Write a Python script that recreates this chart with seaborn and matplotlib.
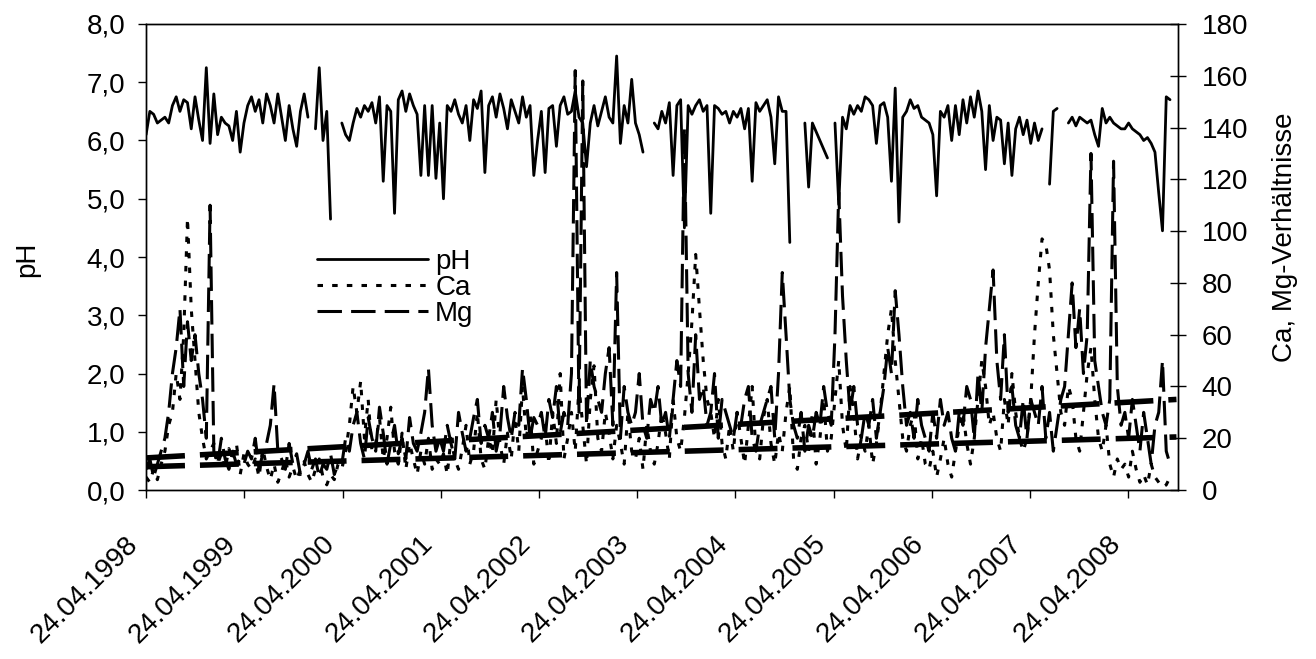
import numpy as np
import pandas as pd
import seaborn as sns
import matplotlib
matplotlib.use("Agg")
import matplotlib.pyplot as plt
import matplotlib.transforms as mtrans
from matplotlib.ticker import FuncFormatter, MultipleLocator
from matplotlib.lines import Line2D

nan = np.nan

# pH, one row per year (14-day samples from 24.04.1998)
ph_values = [
    6.1, 6.5, 6.45, 6.3, 6.35, 6.4, 6.3, 6.6, 6.75, 6.5, 6.7, 6.65, 6.2, 6.75, 6.35, 6.0, 7.25, 5.95, 6.8, 6.1, 6.4, 6.3, 6.25, 6.0, 6.5, 5.8,
    6.3, 6.6, 6.75, 6.5, 6.7, 6.3, 6.8, 6.6, 6.3, 6.8, 6.4, 6.0, 6.6, 6.2, 5.9, 6.5, 6.8, 6.4, nan, 6.2, 7.25, 6.0, 6.5, 4.65, nan, nan,
    6.3, 6.1, 6.0, 6.3, 6.55, 6.4, 6.6, 6.5, 6.65, 6.3, 6.75, 5.3, 6.6, 6.5, 4.75, 6.7, 6.85, 6.5, 6.8, 6.6, 6.45, 5.4, 6.6, 5.4, 6.6, 5.35,
    6.3, 5.0, 6.6, 6.5, 6.7, 6.45, 6.3, 6.6, 6.0, 6.7, 6.55, 6.85, 5.45, 6.6, 6.75, 6.4, 6.8, 6.55, 6.2, 6.7, 6.5, 6.3, 6.75, 6.4, 6.6, 5.4,
    6.0, 6.5, 5.45, 6.55, 6.6, 5.9, 6.6, 6.75, 6.45, 6.5, 6.85, 6.4, 6.3, 5.55, 6.3, 6.6, 6.25, 6.5, 6.75, 6.4, 6.3, 7.45, 5.95, 6.6, 6.3, 7.05,
    6.3, 6.1, 5.8, nan, nan, 6.3, 6.2, 6.5, 6.3, 6.65, 5.4, 6.6, 6.7, 4.5, 6.6, 6.45, 6.6, 6.7, 6.5, 6.6, 4.75, 6.6, 6.55, 6.45, 6.5, 6.3,
    6.5, 6.4, 6.55, 6.2, 6.55, 5.3, 6.65, 6.5, 6.6, 6.7, 6.4, 5.6, 6.75, 6.5, 6.5, 4.25, nan, nan, nan, 6.3, 5.2, 6.3, 6.15, 6.0, 5.85, 5.7,
    nan, 6.3, 4.9, 6.4, 6.2, 6.6, 6.45, 6.6, 6.5, 6.75, 6.7, 6.6, 5.95, 6.6, 6.65, 6.4, 5.3, 6.9, 4.6, 6.4, 6.5, 6.7, 6.55, 6.6, 6.4, 6.35,
    6.3, 6.1, 5.05, 6.5, 6.4, 6.6, 6.0, 6.6, 6.1, 6.7, 6.3, 6.75, 6.4, 6.85, 6.5, 5.5, 6.6, 6.0, 6.4, 6.35, 5.6, 6.3, 5.4, 6.2, 6.4, 6.1,
    6.35, 5.95, 6.3, 6.0, 6.2, nan, 5.25, 6.5, 6.55, nan, nan, 6.3, 6.4, 6.25, 6.4, 6.35, 6.3, 6.35, 6.1, 5.9, 6.55, 6.3, 6.4, 6.3, 6.25, 6.2,
    6.2, 6.3, 6.2, 6.15, 6.1, 6.0, 6.05, 5.95, 5.8, 5.1, 4.45, 6.75, 6.7,
]

ca_values = [
    5, 3, 8, 4, 10, 15, 25, 30, 45, 35, 60, 105, 70, 50, 30, 20, 12, 15, 18, 10, 14, 8, 16, 12, 18, 6,
    14, 10, 8, 12, 5, 16, 9, 4, 10, 3, 7, 12, 5, 9, 4, 8, 11, 6, 3, 8, 12, 5, 2, 6, 4, 10,
    8, 15, 25, 40, 30, 42, 20, 35, 15, 18, 28, 12, 20, 32, 15, 10, 22, 8, 18, 12, 6, 15, 10, 20, 8, 12,
    10, 14, 6, 20, 12, 8, 16, 25, 10, 15, 30, 12, 8, 20, 14, 35, 18, 10, 22, 12, 28, 15, 40, 20, 30, 10,
    15, 20, 25, 10, 30, 18, 45, 12, 20, 30, 15, 40, 25, 10, 35, 48, 20, 15, 30, 22, 12, 25, 18, 10, 30, 15,
    12, 20, 8, 25, 15, 10, 18, 30, 22, 12, 35, 20, 15, 28, 45, 65, 91, 70, 50, 35, 30, 20, 35, 18, 12, 25,
    15, 30, 20, 10, 25, 40, 15, 12, 28, 35, 18, 10, 22, 15, 30, 40, 12, 8, 20, 25, 15, 30, 10, 20, 35, 15,
    20, 35, 50, 25, 15, 40, 30, 12, 20, 15, 25, 10, 18, 30, 45, 60, 70, 50, 35, 20, 15, 25, 30, 12, 20, 10,
    8, 15, 5, 12, 20, 10, 5, 15, 25, 30, 18, 10, 20, 35, 50, 40, 25, 30, 20, 15, 35, 25, 45, 30, 20, 15,
    20, 35, 60, 80, 97, 95, 85, 60, 45, 30, 25, 40, 35, 20, 15, 30, 45, 55, 35, 20, 15, 25, 10, 5, 12, 8,
    10, 5, 15, 8, 3, 6, 2, 10, 5, 3, 1, 2, 5,
]

mg_values = [
    8, 12, 5, 10, 15, 20, 30, 45, 55, 70, 40, 65, 50, 60, 45, 35, 20, 110, 15, 10, 20, 12, 8, 15, 10, 12,
    10, 15, 12, 20, 8, 14, 18, 25, 41, 15, 12, 8, 18, 10, 14, 6, 10, 15, 8, 12, 5, 10, 8, 14, 6, 10,
    10, 20, 15, 25, 30, 18, 12, 28, 20, 15, 32, 22, 10, 18, 25, 14, 20, 12, 28, 18, 15, 22, 30, 47, 25, 15,
    20, 15, 25, 18, 12, 30, 22, 15, 20, 28, 35, 18, 25, 20, 30, 15, 22, 40, 28, 20, 30, 25, 47, 35, 20, 28,
    25, 30, 20, 35, 28, 40, 22, 30, 25, 45, 162, 30, 158, 25, 50, 40, 35, 30, 45, 55, 25, 84, 20, 40, 30, 25,
    30, 45, 25, 20, 35, 30, 40, 25, 30, 20, 35, 50, 40, 140, 45, 30, 60, 35, 40, 25, 30, 45, 20, 35, 30, 25,
    20, 30, 25, 35, 40, 20, 15, 25, 30, 35, 40, 20, 45, 84, 60, 35, 25, 20, 30, 15, 25, 20, 30, 25, 40, 30,
    25, 60, 115, 75, 50, 30, 40, 25, 20, 30, 25, 35, 20, 30, 40, 55, 45, 77, 60, 40, 25, 30, 20, 35, 25, 20,
    15, 30, 20, 35, 25, 30, 20, 15, 30, 25, 40, 35, 20, 45, 30, 55, 70, 85, 50, 35, 60, 30, 40, 25, 20, 35,
    20, 35, 30, 25, 40, 20, 30, 15, 25, 35, 40, 60, 80, 55, 70, 45, 60, 130, 50, 40, 30, 25, 35, 127, 40, 25,
    30, 20, 35, 25, 15, 30, 20, 10, 25, 30, 50, 15, 10,
]

# thick dashed trend lines (right axis)
trend_dates = ['1998-04-24', '2008-10-20']
trend_upper = [12.4, 35.0]
trend_lower = [9.0, 20.5]

tick_labels = ['24.04.1998', '24.04.1999', '24.04.2000', '24.04.2001', '24.04.2002', '24.04.2003',
               '24.04.2004', '24.04.2005', '24.04.2006', '24.04.2007', '24.04.2008']

sns.set_style('ticks')
plt.rcParams['font.family'] = ['Liberation Sans', 'DejaVu Sans']
plt.rcParams['text.color'] = 'black'
plt.rcParams['axes.labelcolor'] = 'black'
fs = 20

ph_ls = '-'
ca_ls = (0, (1.8, 3.0))
mg_ls = (0, (8, 3))
trend_ls = (0, (7, 2.7))

dates = pd.date_range('1998-04-24', periods=len(ph_values), freq='14D')
df = pd.DataFrame({'date': dates, 'pH': ph_values, 'Ca': ca_values, 'Mg': mg_values})
df['seg'] = df['pH'].isna().cumsum()
tr = pd.DataFrame({'date': pd.to_datetime(trend_dates), 'up': trend_upper, 'low': trend_lower})
tick_dates = pd.to_datetime(tick_labels, format='%d.%m.%Y')

fig = plt.figure(figsize=(13.16, 6.59), dpi=100)
ax = fig.add_axes([0.111, 0.2564, 0.784, 0.7072])
ax2 = ax.twinx()

sns.lineplot(data=df.dropna(subset=['pH']), x='date', y='pH', units='seg', estimator=None,
             color='black', linewidth=2.0, ax=ax)

sns.lineplot(data=tr, x='date', y='up', color='black', linewidth=4, linestyle=trend_ls, ax=ax2)
sns.lineplot(data=tr, x='date', y='low', color='black', linewidth=4, linestyle=trend_ls, ax=ax2)
sns.lineplot(data=df, x='date', y='Ca', color='black', linewidth=2.2, linestyle=ca_ls, ax=ax2)
sns.lineplot(data=df, x='date', y='Mg', color='black', linewidth=2.2, linestyle=mg_ls, ax=ax2)

ax.set_xlim(pd.Timestamp('1998-04-24'), pd.Timestamp('2008-10-25'))
ax.set_ylim(0, 8)
ax2.set_ylim(0, 180)

ax.yaxis.set_major_locator(MultipleLocator(1))
ax.yaxis.set_major_formatter(FuncFormatter(lambda v, p: f"{v:.1f}".replace('.', ',')))
ax2.yaxis.set_major_locator(MultipleLocator(20))

# date labels placed like the original: rotated, ending left of and below the tick
ax.set_xticks(tick_dates)
ax.set_xticklabels([])
shift = mtrans.ScaledTranslation(-21 / 100, -41 / 100, fig.dpi_scale_trans)
for d, lab in zip(tick_dates, tick_labels):
    ax.text(d, 0, lab, transform=ax.get_xaxis_transform() + shift, rotation=45,
            ha='right', va='top', rotation_mode='anchor', fontsize=fs, color='black')

ax.tick_params(axis='x', direction='out', length=6, width=1, colors='black')
ax.tick_params(axis='y', direction='out', length=6, width=1, pad=9, labelsize=fs, colors='black')
ax2.tick_params(axis='y', direction='inout', length=12, width=1, pad=11, labelsize=fs, colors='black')

ax.set_xlabel('')
ax2.set_xlabel('')
ax.set_ylabel('pH', fontsize=fs, color='black')
ax2.set_ylabel('Ca, Mg-Verhältnisse', fontsize=fs, color='black')
ax.yaxis.set_label_coords(-0.103, 0.494)
ax2.yaxis.set_label_coords(1.091, 0.543)

for a in (ax, ax2):
    for s in a.spines.values():
        s.set_visible(True)
        s.set_color('black')
        s.set_linewidth(1)

handles = [Line2D([], [], color='black', linewidth=2.0, linestyle=ph_ls),
           Line2D([], [], color='black', linewidth=2.2, linestyle=ca_ls),
           Line2D([], [], color='black', linewidth=2.2, linestyle=mg_ls)]
ax2.legend(handles, ['pH', 'Ca', 'Mg'], loc='upper left', bbox_to_anchor=(0.155, 0.542),
           frameon=False, fontsize=fs, handlelength=4.0, handletextpad=0.25,
           labelspacing=0.0, borderaxespad=0)

fig.savefig('out.png', dpi=100)
